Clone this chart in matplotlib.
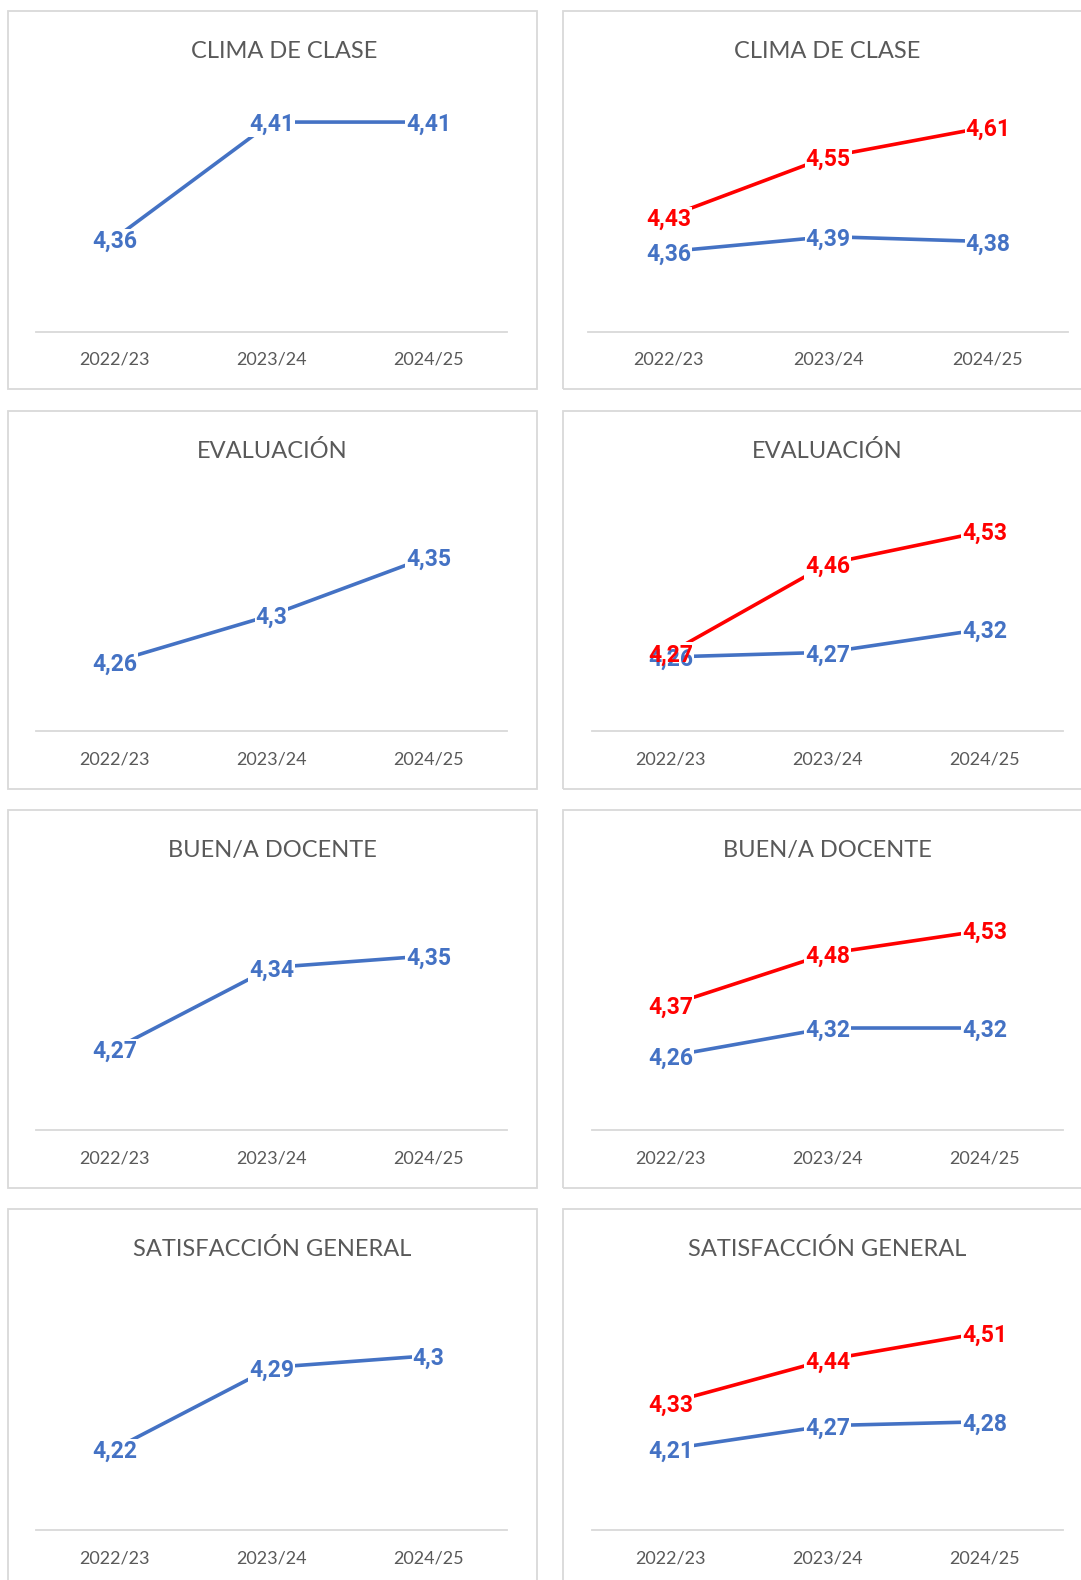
import matplotlib.pyplot as plt
from matplotlib.patches import Rectangle

plt.rcParams['font.family'] = ['Lato', 'DejaVu Sans']

W, H = 1081, 1580

# data
years = ['2022/23', '2023/24', '2024/25']
titles = ['CLIMA DE CLASE', 'EVALUACIÓN', 'BUEN/A DOCENTE', 'SATISFACCIÓN GENERAL']
left_blue = [[4.36, 4.41, 4.41], [4.26, 4.30, 4.35], [4.27, 4.34, 4.35], [4.22, 4.29, 4.30]]
right_blue = [[4.36, 4.39, 4.38], [4.26, 4.27, 4.32], [4.26, 4.32, 4.32], [4.21, 4.27, 4.28]]
right_red = [[4.43, 4.55, 4.61], [4.27, 4.46, 4.53], [4.37, 4.48, 4.53], [4.33, 4.44, 4.51]]

# axis ranges (what Excel picked automatically)
left_ylim = [(4.32, 4.42), (4.20, 4.40), (4.20, 4.40), (4.15, 4.35)]
right_ylim = [(4.20, 4.666), (4.10, 4.60), (4.10, 4.60), (4.00, 4.60)]

BLUE = '#4472C4'
RED = '#FF0000'
GREY = '#595959'
LIGHT = '#D9D9D9'
LABEL_FONT = ['Roboto', 'DejaVu Sans']

# layout in pixels
panel_tops = [11, 411, 810, 1209]
panel_h = 378
baselines = [331.5, 731.4, 1130.4, 1530.3]
plot_h = 232.7
title_dy = 40.5
left_x = (36.3, 506.8)
right_x = [(588.4, 1067.9), (592.4, 1062.9), (592.4, 1062.9), (592.4, 1062.9)]
left_title_x = [284, 272, 272, 272]
right_title_x = 827

fig = plt.figure(figsize=(W / 100, H / 100), dpi=100)


def fmt(v):
    return f'{v:g}'.replace('.', ',')


def x0_border(x0):
    return 8 if x0 < 300 else 563


def panel(x0, x1, base, ylim, series, title, tx, top):
    # border around each chart
    fig.patches.append(Rectangle((x0_border(x0) / W, 1 - (top + panel_h) / H),
                                 529 / W, panel_h / H, transform=fig.transFigure,
                                 fill=False, ec=LIGHT, lw=1.3))
    fig.text(tx / W, 1 - (top + title_dy) / H, title, ha='center', va='center',
             fontsize=17, color=GREY)
    ax = fig.add_axes([x0 / W, 1 - base / H, (x1 - x0) / W, plot_h / H])
    ax.set_xlim(-0.5, 2.5)
    ax.set_ylim(*ylim)
    for s in ['top', 'right', 'left']:
        ax.spines[s].set_visible(False)
    ax.spines['bottom'].set_color(LIGHT)
    ax.spines['bottom'].set_linewidth(1.3)
    ax.set_yticks([])
    ax.set_xticks(range(3))
    ax.set_xticklabels(years, fontsize=13, color=GREY)
    ax.tick_params(axis='x', length=0, pad=14.5)
    ax.patch.set_alpha(0)
    for vals, col in series:
        ax.plot(range(3), vals, color=col, lw=2.6, zorder=2, clip_on=False,
                solid_capstyle='butt')
    for vals, col in series:
        for i, v in enumerate(vals):
            ax.text(i, v, fmt(v), ha='center', va='center_baseline', fontsize=16.5,
                    fontweight='bold', family=LABEL_FONT, color='none', zorder=3,
                    clip_on=False, bbox=dict(fc='white', ec='none', pad=0.6))
    for vals, col in series:
        for i, v in enumerate(vals):
            ax.text(i, v, fmt(v), ha='center', va='center_baseline', fontsize=16.5,
                    fontweight='bold', family=LABEL_FONT, color=col, zorder=4,
                    clip_on=False)
    return ax


for r in range(4):
    panel(left_x[0], left_x[1], baselines[r], left_ylim[r],
          [(left_blue[r], BLUE)], titles[r], left_title_x[r], panel_tops[r])
    panel(right_x[r][0], right_x[r][1], baselines[r], right_ylim[r],
          [(right_blue[r], BLUE), (right_red[r], RED)], titles[r], right_title_x,
          panel_tops[r])

fig.savefig('out.png', dpi=100, facecolor='white')
